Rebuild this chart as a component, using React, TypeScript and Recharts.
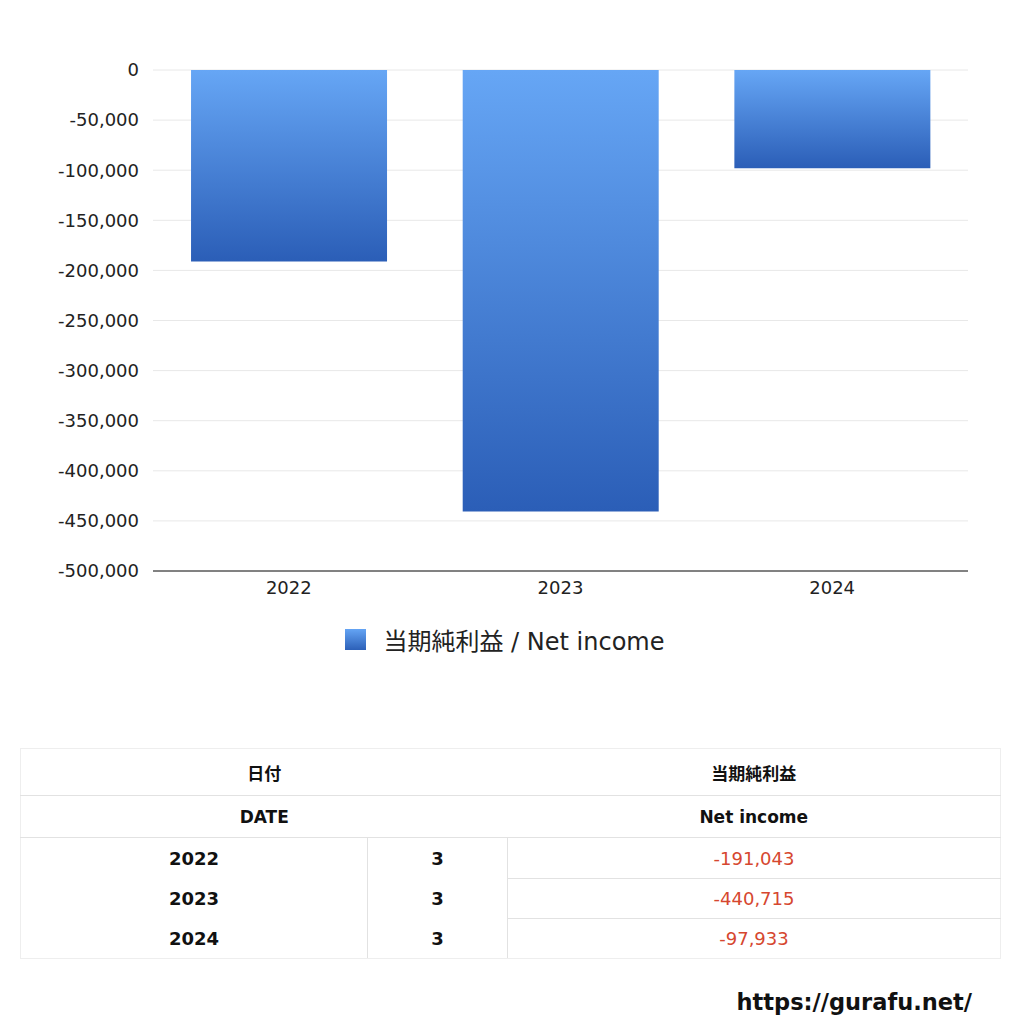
import { BarChart, Bar, XAxis, YAxis, CartesianGrid, Legend } from 'recharts';

const YEARS = ['2022', '2023', '2024'];
const MONTHS = ['3', '3', '3'];
const NET_INCOME = [-191043, -440715, -97933];
const Y_TICKS = [0, -50000, -100000, -150000, -200000, -250000, -300000, -350000, -400000, -450000, -500000];

const SERIES_NAME = '当期純利益 / Net income';
const FONT = '"DejaVu Sans", "Noto Sans CJK JP", sans-serif';

const data = YEARS.map((year, i) => ({ year, value: NET_INCOME[i] }));

const fmt = (v: number) => v.toLocaleString('en-US');

function LegendContent() {
  return (
    <div style={{ display: 'flex', justifyContent: 'center', alignItems: 'center', fontFamily: FONT, fontSize: 24, color: '#222' }}>
      <span
        style={{
          display: 'inline-block',
          width: 21,
          height: 21,
          marginRight: 17,
          background: 'linear-gradient(#64a4f4, #2c60b8)',
        }}
      />
      <span>{SERIES_NAME}</span>
    </div>
  );
}

const outer = '1px solid #eeeeee';
const inner = '1px solid #e2e2e2';
const cell: React.CSSProperties = { textAlign: 'center', padding: 0 };

function DataTable() {
  const last = YEARS.length - 1;
  return (
    <table
      style={{
        position: 'absolute',
        left: 20,
        top: 748,
        width: 980,
        borderCollapse: 'collapse',
        fontFamily: FONT,
        fontSize: 18,
        color: '#111',
        tableLayout: 'fixed',
      }}
    >
      <colgroup>
        <col style={{ width: 347 }} />
        <col style={{ width: 140 }} />
        <col style={{ width: 493 }} />
      </colgroup>
      <tbody>
        <tr style={{ height: 47 }}>
          <td colSpan={2} style={{ ...cell, borderTop: outer, borderLeft: outer, borderBottom: inner, fontWeight: 700, fontSize: 17 }}>日付</td>
          <td style={{ ...cell, borderTop: outer, borderRight: outer, borderBottom: inner, fontWeight: 700, fontSize: 17 }}>当期純利益</td>
        </tr>
        <tr style={{ height: 42 }}>
          <td colSpan={2} style={{ ...cell, borderLeft: outer, borderBottom: inner, fontWeight: 700, fontSize: 17 }}>DATE</td>
          <td style={{ ...cell, borderRight: outer, borderBottom: inner, fontWeight: 700, fontSize: 17 }}>Net income</td>
        </tr>
        {YEARS.map((y, i) => (
          <tr key={y} style={{ height: i === 0 ? 41 : 40 }}>
            <td style={{ ...cell, borderLeft: outer, borderRight: inner, borderBottom: i === last ? outer : 'none', fontWeight: 700 }}>{y}</td>
            <td style={{ ...cell, borderRight: inner, borderBottom: i === last ? outer : 'none', fontWeight: 700 }}>{MONTHS[i]}</td>
            <td style={{ ...cell, borderRight: outer, borderBottom: i === last ? outer : inner, color: '#d6472f' }}>{fmt(NET_INCOME[i])}</td>
          </tr>
        ))}
      </tbody>
    </table>
  );
}

export default function App() {
  return (
    <div style={{ position: 'absolute', left: 0, top: 0, width: 1024, height: 1024, background: '#fff' }}>
      <div style={{ position: 'absolute', left: 0, top: 0 }}>
        <BarChart
          width={1024}
          height={680}
          data={data}
          margin={{ top: 70, right: 56, left: 0, bottom: 44 }}
          barCategoryGap="14%"
        >
          <defs>
            <linearGradient id="barGrad" x1="0" y1="0" x2="0" y2="1">
              <stop offset="0%" stopColor="#66a6f5" />
              <stop offset="100%" stopColor="#2b5eb7" />
            </linearGradient>
          </defs>
          <CartesianGrid vertical={false} stroke="#e8e8e8" />
          <XAxis
            dataKey="year"
            axisLine={{ stroke: '#111' }}
            tickLine={false}
            tick={{ fontSize: 18, fill: '#222', fontFamily: FONT }}
            tickMargin={4}
          />
          <YAxis
            domain={[-500000, 0]}
            ticks={Y_TICKS}
            width={153}
            axisLine={false}
            tickLine={false}
            tickFormatter={fmt}
            tick={{ fontSize: 18, fill: '#222', fontFamily: FONT }}
            tickMargin={8}
          />
          <Legend
            verticalAlign="bottom"
            content={<LegendContent />}
            wrapperStyle={{ bottom: 23, left: 0, width: 1010 }}
          />
          <Bar dataKey="value" name={SERIES_NAME} fill="url(#barGrad)" isAnimationActive={false} />
        </BarChart>
      </div>
      <DataTable />
      <div
        style={{
          position: 'absolute',
          right: 52,
          top: 989,
          fontFamily: FONT,
          fontSize: 22.5,
          fontWeight: 700,
          color: '#111',
        }}
      >
        https://gurafu.net/
      </div>
    </div>
  );
}
